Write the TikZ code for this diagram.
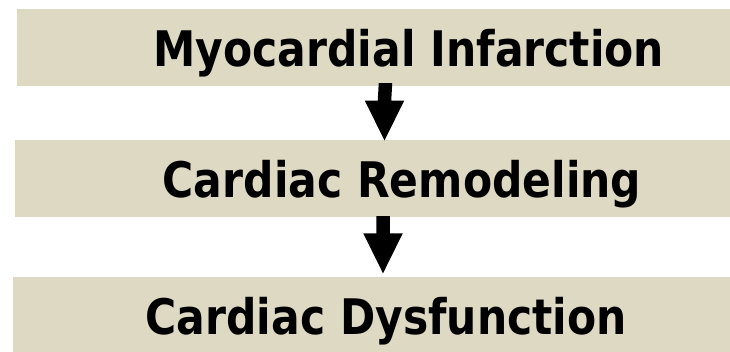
\documentclass[tikz,border=0pt]{standalone}
\usepackage{fontspec}
\usetikzlibrary{calc}
\newfontfamily\lblfont{DejaVu Sans}[FakeStretch=0.867]
\definecolor{boxbg}{HTML}{DDD9C3}
\newcommand\blkarrow[2]{%
  \fill[black] ($(#1)+(-6.75,0)$) -- ($(#2)+(-6.75,-40)$) -- ($(#2)+(-19.75,-40)$)
    -- (#2) -- ($(#2)+(19.75,-40)$) -- ($(#2)+(6.75,-40)$) -- ($(#1)+(6.75,0)$) -- cycle;}
\begin{document}
\begin{tikzpicture}[x=1pt,y=-1pt,
  box/.style={fill=boxbg,draw=none,inner sep=0pt,outer sep=0pt,anchor=north west},
  lbl/.style={inner sep=0pt,outer sep=0pt,anchor=base,text=black,
    font=\lblfont\bfseries\fontsize{49}{58}\selectfont}]
\useasboundingbox (0,0) rectangle (730,351);
\node[box,minimum width=723pt,minimum height=77pt] (b1) at (17,9) {};
\node[box,minimum width=725pt,minimum height=77pt] (b2) at (15,140) {};
\node[box,minimum width=727pt,minimum height=80pt] (b3) at (13,277) {};
\node[lbl] (t1) at (408.8,66.6) {Myocardial Infarction};
\node[lbl] (t2) at (402,197.6) {Cardiac Remodeling};
\node[lbl] (t3) at (386.3,334.4) {Cardiac Dysfunction};
\coordinate (a1s) at ([xshift=7pt,yshift=3pt]b1.south);
\coordinate (a1e) at ([xshift=7pt,yshift=-0.5pt]b2.north);
\coordinate (a2s) at ([xshift=5.5pt,yshift=1pt]b2.south);
\coordinate (a2e) at ([xshift=6.5pt,yshift=3.7pt]b3.north);
\blkarrow{a1s}{a1e}
\blkarrow{a2s}{a2e}
\end{tikzpicture}
\end{document}
